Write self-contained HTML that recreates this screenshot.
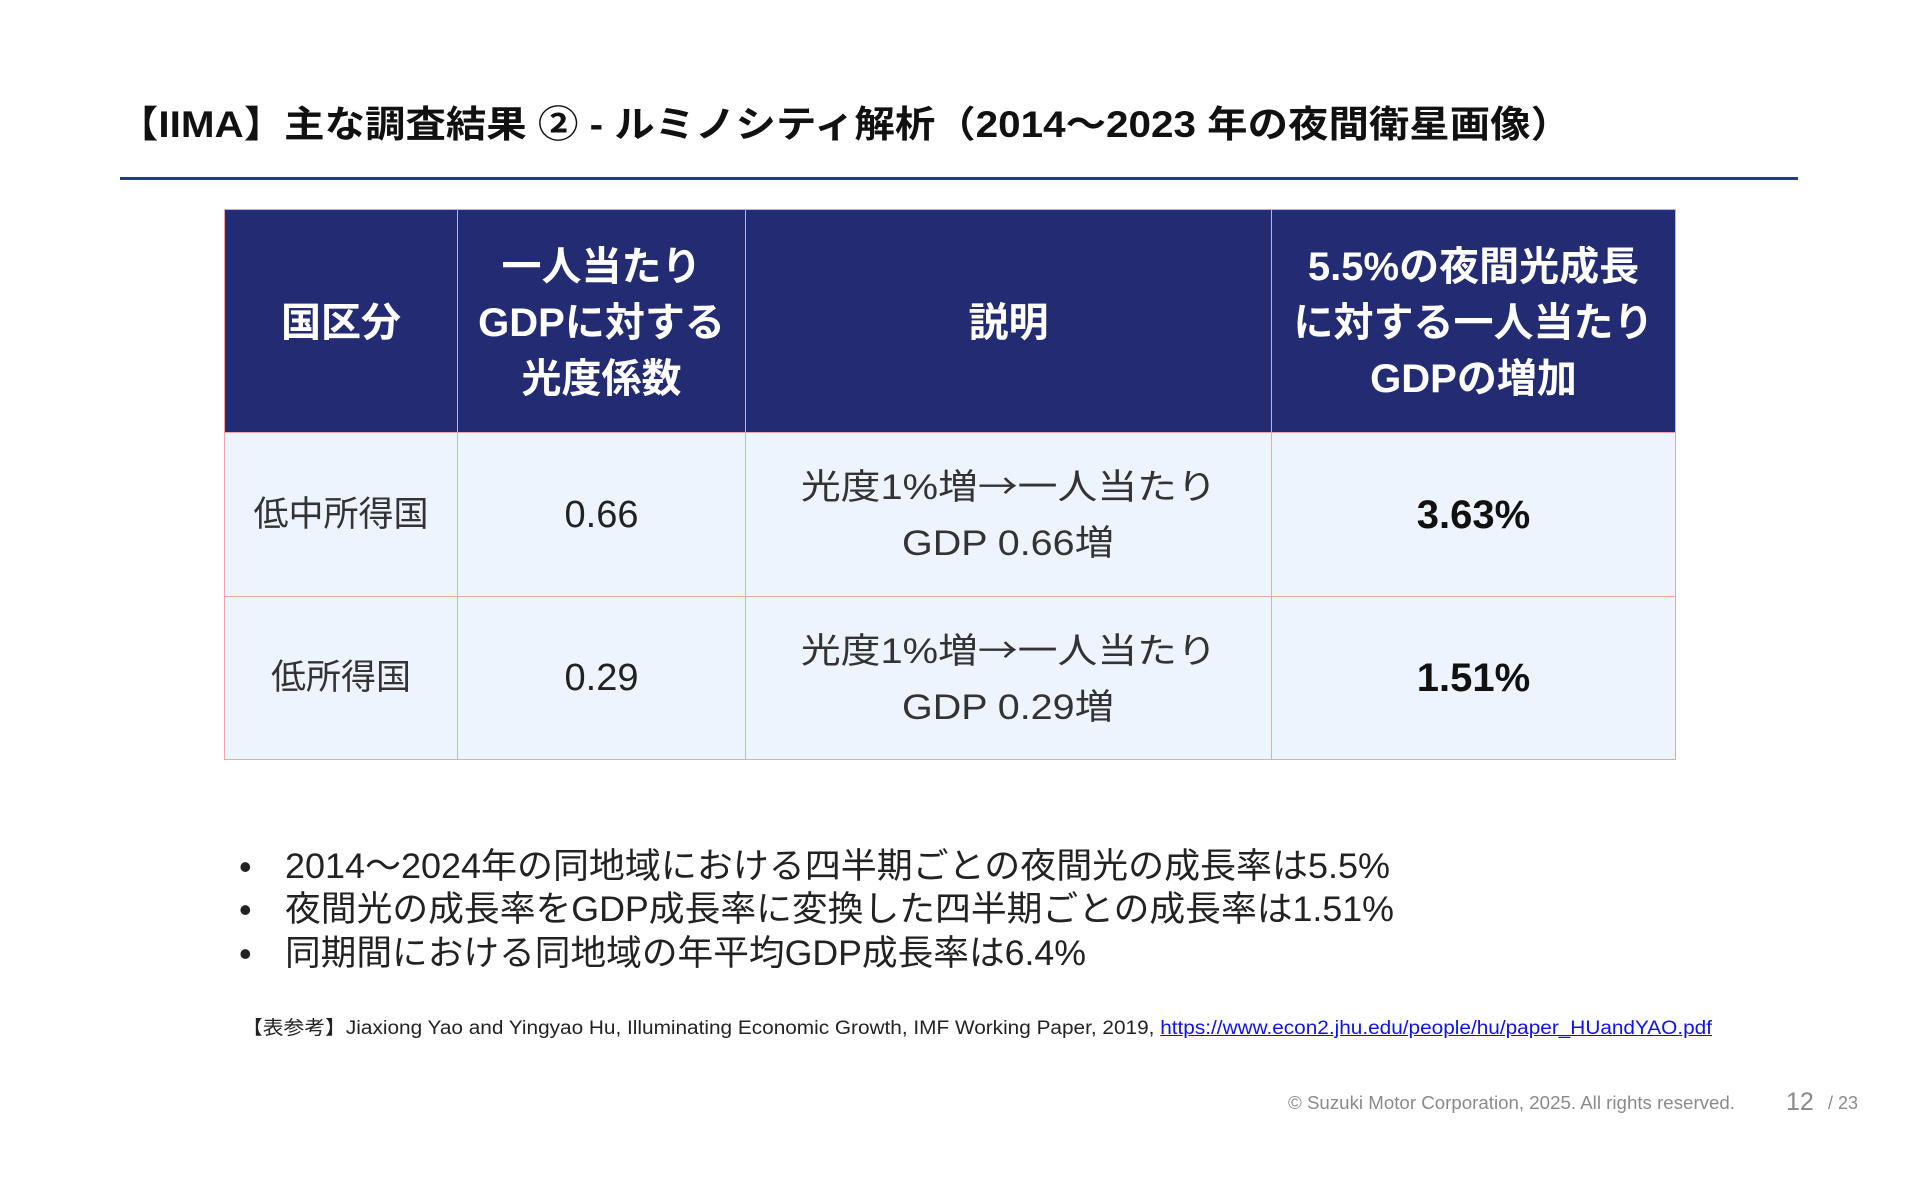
<!DOCTYPE html>
<html lang="ja">
<head>
<meta charset="utf-8">
<style>
  html,body{margin:0;padding:0;background:#fff;}
  body{width:1920px;height:1200px;position:relative;overflow:hidden;
       font-family:"Liberation Sans","Noto Sans CJK JP",sans-serif;color:#222;}
  .abs{position:absolute;white-space:nowrap;}
  .fit{transform-origin:0 50%;display:inline-block;white-space:nowrap;}
  .fitc{transform-origin:50% 50%;display:inline-block;white-space:nowrap;}
  .cjk{font-family:"Noto Sans CJK JP",sans-serif;}
  #title{left:118px;top:100px;height:50px;line-height:50px;font-size:37px;font-weight:bold;color:#111;}
  #rule{position:absolute;left:120px;top:177px;width:1678px;height:3px;background:#1f3a93;}
  table{position:absolute;left:224px;top:209px;border-collapse:collapse;table-layout:fixed;width:1451px;}
  td,th{border:1.5px solid #f2a3a6;text-align:center;vertical-align:middle;padding:0;}
  th{background:#232c72;color:#fff;font-weight:bold;font-size:40px;line-height:56px;height:218px;padding-top:4px;box-sizing:content-box;}
  td{background:#edf4fd;color:#333;font-size:35px;line-height:56px;}
  td.num{font-size:38px;color:#222;}
  td.b{font-weight:bold;font-size:40px;color:#111;}
  .r1 td{height:163px;}
  .r2 td{height:162px;}
  .bul{left:239px;height:44px;line-height:44px;font-size:35px;color:#222;}
  .bul .dot{position:absolute;left:0;top:0;font-size:36px;}
  .bul .t{position:absolute;left:46px;top:0;}
  #ref{left:242px;top:1016px;height:26px;line-height:26px;font-size:19px;color:#222;}
  #ref a{color:#1010ee;text-decoration:underline;}
  #copy{left:1288px;top:1091px;height:24px;line-height:24px;font-size:18px;color:#8a8a8a;}
  #pg{left:1786px;top:1087px;height:30px;line-height:30px;font-size:25px;color:#8a8a8a;}
  #tot{left:1828px;top:1092px;height:22px;line-height:22px;font-size:18px;color:#8a8a8a;}
</style>
</head>
<body>
<div class="abs" id="title"><span class="fit" data-w="1453">【IIMA】主な調査結果 ② - ルミノシティ解析（2014～2023 年の夜間衛星画像）</span></div>
<div id="rule"></div>

<table>
  <colgroup>
    <col style="width:233px"><col style="width:288px"><col style="width:526px"><col style="width:404px">
  </colgroup>
  <tr>
    <th>国区分</th>
    <th>一人当たり<br>GDPに対する<br>光度係数</th>
    <th>説明</th>
    <th>5.5%の夜間光成長<br>に対する一人当たり<br>GDPの増加</th>
  </tr>
  <tr class="r1">
    <td>低中所得国</td>
    <td class="num">0.66</td>
    <td><span class="fitc" data-w="416">光度1%増<span class="cjk">→</span>一人当たり</span><br><span class="fitc" data-w="212">GDP 0.66増</span></td>
    <td class="b">3.63%</td>
  </tr>
  <tr class="r2">
    <td>低所得国</td>
    <td class="num">0.29</td>
    <td><span class="fitc" data-w="416">光度1%増<span class="cjk">→</span>一人当たり</span><br><span class="fitc" data-w="212">GDP 0.29増</span></td>
    <td class="b">1.51%</td>
  </tr>
</table>

<div class="abs bul" style="top:845px;"><span class="dot">•</span><span class="t"><span class="fit" data-w="1105">2014～2024年の同地域における四半期ごとの夜間光の成長率は5.5%</span></span></div>
<div class="abs bul" style="top:888px;"><span class="dot">•</span><span class="t"><span class="fit" data-w="1109">夜間光の成長率をGDP成長率に変換した四半期ごとの成長率は1.51%</span></span></div>
<div class="abs bul" style="top:932px;"><span class="dot">•</span><span class="t"><span class="fit" data-w="801">同期間における同地域の年平均GDP成長率は6.4%</span></span></div>

<div class="abs" id="ref"><span class="fit" data-w="1470">【表参考】Jiaxiong Yao and Yingyao Hu, Illuminating Economic Growth, IMF Working Paper, 2019, <a>https://www.econ2.jhu.edu/people/hu/paper_HUandYAO.pdf</a></span></div>

<div class="abs" id="copy"><span class="fit" data-w="447">© Suzuki Motor Corporation, 2025. All rights reserved.</span></div>
<div class="abs" id="pg">12</div>
<div class="abs" id="tot">/ 23</div>

<script>
  document.querySelectorAll('.fit, .fitc').forEach(function(el){
    var target = parseFloat(el.getAttribute('data-w'));
    var w = el.getBoundingClientRect().width;
    if (w > 0 && target > 0) {
      var s = target / w;
      if (s > 0.6 && s < 1.6) el.style.transform = 'scaleX(' + s + ')';
    }
  });
</script>
</body>
</html>
